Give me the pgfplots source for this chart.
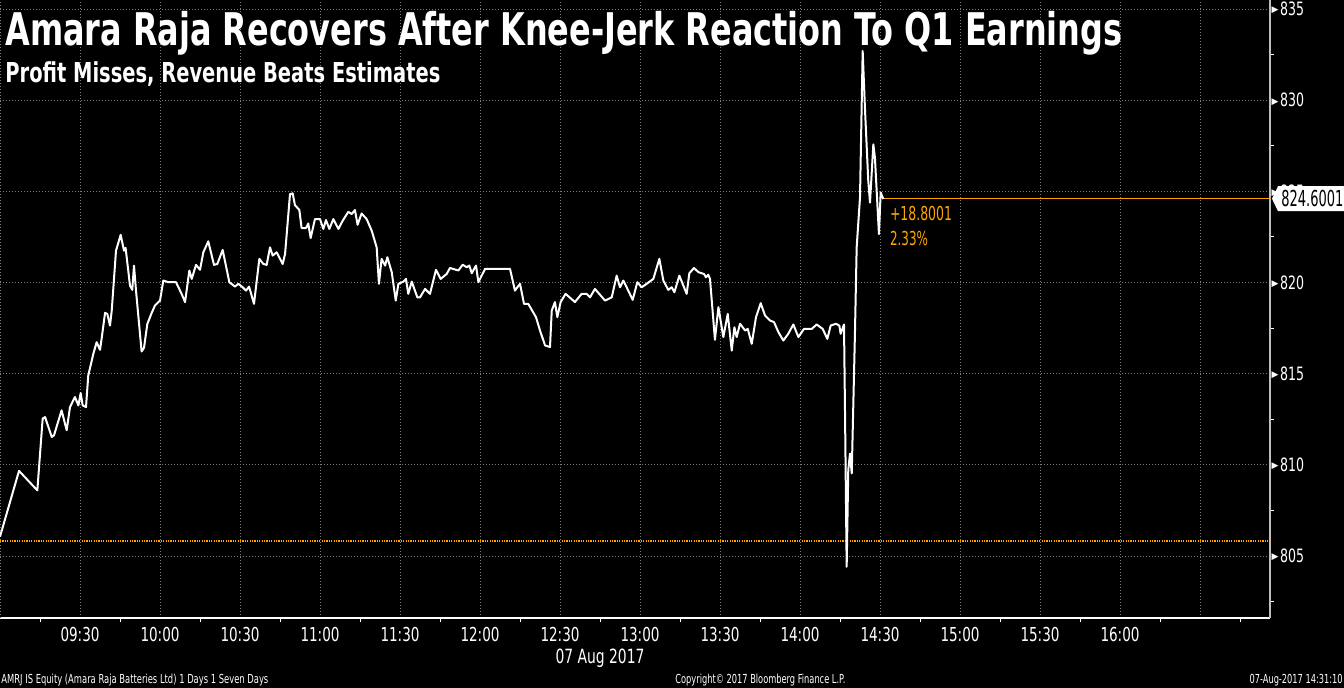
\documentclass[border=0pt]{standalone}
\usepackage{pgfplots}
\pgfplotsset{compat=1.18}
\usepackage{fontspec}
\setmainfont{DejaVu Sans Condensed}
\newfontfamily\symf{DejaVu Sans}
\definecolor{bbgorange}{RGB}{255,165,0}
\definecolor{gridgray}{RGB}{125,125,125}
\definecolor{axgray}{RGB}{190,190,190}
\newcommand\fitw[2]{\resizebox{#1}{\height}{#2}}
\newcommand\xl[1]{\fitw{19.5pt}{\fontsize{9.6}{9.6}\selectfont #1}}
\newcommand\yl[1]{\raisebox{1.4pt}{\symf\fontsize{4.5}{4.5}\selectfont ▶}\hspace{0.8pt}\fitw{12pt}{\fontsize{9.2}{9.2}\selectfont #1}}
\begin{document}
\begin{tikzpicture}
\fill[black] (0pt,0pt) rectangle (672pt,344pt);
\path[use as bounding box] (0pt,0pt) rectangle (672pt,344pt);
\begin{axis}[
  at={(0pt,35pt)}, anchor=south west,
  scale only axis, width=635pt, height=309pt,
  xmin=0, xmax=476.25, ymin=801.6, ymax=835.5,
  clip=false,
  axis x line*=bottom, axis y line*=right,
  x axis line style={white, line width=0.8pt},
  y axis line style={axgray, line width=0.8pt},
  xtick={30,60,...,450},
  xticklabels={\xl{09:30},\xl{10:00},\xl{10:30},\xl{11:00},\xl{11:30},\xl{12:00},\xl{12:30},\xl{13:00},\xl{13:30},\xl{14:00},\xl{14:30},\xl{15:00},\xl{15:30},\xl{16:00},{}},
  minor xtick={15,45,...,465},
  ytick={805,810,...,835},
  yticklabels={\yl{805},\yl{810},\yl{815},\yl{820},\yl{825},\yl{830},\yl{835}},
  minor ytick={802.5,807.5,...,832.5},
  extra x ticks={0.3}, extra x tick labels={},
  extra x tick style={grid style={gridgray, dash pattern=on 2pt off 1.5pt, line width=0.6pt}},
  tick align=outside,
  major tick length=0pt, minor tick length=2pt,
  every minor tick/.append style={white, line width=0.5pt},
  grid=major,
  major grid style={gridgray, dash pattern=on 0.5pt off 1pt, line width=0.5pt},
  xticklabel style={text=white, inner sep=0pt, anchor=north, yshift=-4.5pt},
  yticklabel style={text=white, inner sep=0pt, anchor=west, xshift=0.6pt},
]
\addplot[bbgorange, line width=1pt, dash pattern=on 0.6pt off 0.6pt] coordinates {(0,805.8) (476.25,805.8)};
\addplot[bbgorange, line width=0.5pt] coordinates {(331.25,824.6) (476.25,824.6)};
\addplot[white, line width=1pt, line join=round] table {
x y
0 806.06
7.13 809.67
14.0 808.6
16.0 812.54
16.9 812.62
19.4 811.53
20.25 811.62
23.1 812.99
25.0 811.9
26.25 813.17
28.1 813.72
29.4 813.26
30.25 813.94
31.0 813.26
32.25 813.17
33.1 814.9
35.0 816.09
36.25 816.73
37.5 816.31
38.1 816.91
39.4 818.34
40.25 818.28
41.25 817.64
41.9 818.46
43.5 821.75
45.25 822.62
46.5 821.75
47.1 821.9
48.75 819.83
49.6 819.6
50.25 820.93
51.0 819.56
53.1 816.22
54.0 816.42
55.25 817.73
56.9 818.34
58.1 818.74
60.0 819.01
61.25 820.11
63.1 820.02
66.0 820.02
68.1 819.38
69.4 818.93
71.0 820.66
71.9 820.2
73.5 820.97
75.0 820.7
76.25 821.66
78.1 822.26
80.25 820.97
81.5 821.02
83.5 821.79
86.0 820.02
88.1 819.78
89.4 819.93
91.0 819.74
92.25 819.56
93.4 819.78
95.25 818.83
97.25 821.3
98.75 821.02
100.0 820.97
101.25 821.93
102.25 821.48
103.75 821.66
106.0 821.02
106.9 821.57
108.75 824.85
109.75 824.89
110.6 824.25
112.25 823.98
113.1 822.99
114.75 822.99
115.6 823.24
116.5 822.44
118.1 823.48
120.0 823.48
121.25 822.94
122.25 823.43
123.5 822.94
125.0 823.48
126.9 822.94
128.5 823.39
130.6 823.88
131.9 823.76
133.1 823.98
134.1 823.17
135.6 823.79
137.5 823.48
139.4 822.84
141.25 821.93
142.1 819.93
143.1 821.3
144.4 820.93
145.25 821.39
146.9 820.57
148.4 819.01
149.4 819.93
151.25 820.05
152.25 820.2
153.1 819.38
154.4 820.05
156.5 819.19
157.5 819.19
159.4 819.65
161.25 819.38
163.5 820.7
165.25 820.2
167.5 820.47
168.75 820.8
171.9 820.66
173.5 820.98
175.0 820.84
176.0 820.93
176.9 820.51
178.5 820.93
179.4 820.02
181.9 820.75
191.25 820.75
193.1 819.56
195.0 819.93
196.5 818.83
198.1 818.83
201.0 818.1
202.5 817.37
204.4 816.55
206.25 816.46
206.9 818.46
208.1 818.93
209.0 818.1
210.25 818.93
212.1 819.38
215.6 818.93
218.1 819.38
220.0 819.38
221.25 819.19
223.1 819.65
226.9 819.01
229.4 819.19
231.25 820.38
232.5 819.74
233.75 820.11
235.0 819.74
237.25 819.05
239.0 820.02
240.6 819.74
242.5 819.93
245.0 820.2
247.25 821.3
248.75 820.11
250.6 819.6
251.9 819.74
252.9 819.47
254.75 820.38
257.5 819.38
258.5 820.51
260.25 820.8
261.9 820.57
264.0 820.47
264.75 820.29
265.6 820.43
266.25 820.2
268.1 816.86
269.4 818.65
271.25 817.01
272.9 818.28
274.4 816.27
275.4 817.55
276.25 817.01
277.5 817.74
279.4 817.37
280.4 817.46
281.9 816.64
283.5 818.1
285.25 818.87
286.9 818.19
288.75 817.92
290.25 817.83
291.9 817.28
293.75 816.82
295.6 817.19
297.5 817.7
299.4 817.01
301.5 817.46
304.4 817.46
306.25 817.7
308.5 817.46
310.25 816.91
311.5 817.64
313.5 817.74
314.75 817.64
315.25 817.19
316.5 817.7
316.9 812.62
317.5 804.41
318.1 809.71
318.75 810.62
319.4 809.53
320.6 817.19
321.25 821.93
322.5 824.67
323.5 832.7
324.4 829.41
325.6 825.58
326.25 824.39
327.5 827.58
328.1 826.85
328.75 825.03
329.6 822.66
330.25 824.94
331.25 824.58
};
\node[anchor=west, inner sep=0pt, text=bbgorange] at (axis cs:333.6,823.77) {\fitw{31pt}{\fontsize{9.6}{9.6}\selectfont +18.8001}};
\node[anchor=west, inner sep=0pt, text=bbgorange] at (axis cs:333.6,822.44) {\fitw{19pt}{\fontsize{9.6}{9.6}\selectfont 2.33\%}};
\coordinate (cur) at (axis cs:476.25,824.6);
\end{axis}
\fill[white] (cur) ++(1pt,0pt) -- ++(3pt,6.25pt) -- ++(40pt,0pt) -- ++(0pt,-12.5pt) -- ++(-40pt,0pt) -- cycle;
\node[anchor=west, inner sep=0pt, text=black] at ([xshift=5.5pt]cur) {\fitw{31pt}{\fontsize{11}{11}\selectfont 824.6001}};
\node[anchor=base west, inner sep=0pt, text=white] at (2.5pt,321pt) {\fitw{558.5pt}{\fontsize{22.5}{22.5}\selectfont\bfseries Amara Raja Recovers After Knee-Jerk Reaction To Q1 Earnings}};
\node[anchor=base west, inner sep=0pt, text=white] at (2.5pt,302.5pt) {\fitw{217.5pt}{\fontsize{13.7}{13.7}\selectfont\bfseries Profit Misses, Revenue Beats Estimates}};
\node[anchor=base, inner sep=0pt, text=white] at (300pt,12pt) {\fitw{44.5pt}{\fontsize{9.8}{9.8}\selectfont 07 Aug 2017}};
\node[anchor=base west, inner sep=0pt, text=white] at (0.5pt,2.2pt) {\fitw{133.5pt}{\fontsize{6.2}{6.2}\selectfont AMRJ IS Equity (Amara Raja Batteries Ltd) 1 Days 1 Seven Days}};
\node[anchor=base west, inner sep=0pt, text=white] at (337.5pt,2.2pt) {\fitw{85pt}{\fontsize{6.2}{6.2}\selectfont Copyright© 2017 Bloomberg Finance L.P.}};
\node[anchor=base east, inner sep=0pt, text=white] at (671.5pt,2.2pt) {\fitw{46.5pt}{\fontsize{6.2}{6.2}\selectfont 07-Aug-2017 14:31:10}};
\end{tikzpicture}
\end{document}
